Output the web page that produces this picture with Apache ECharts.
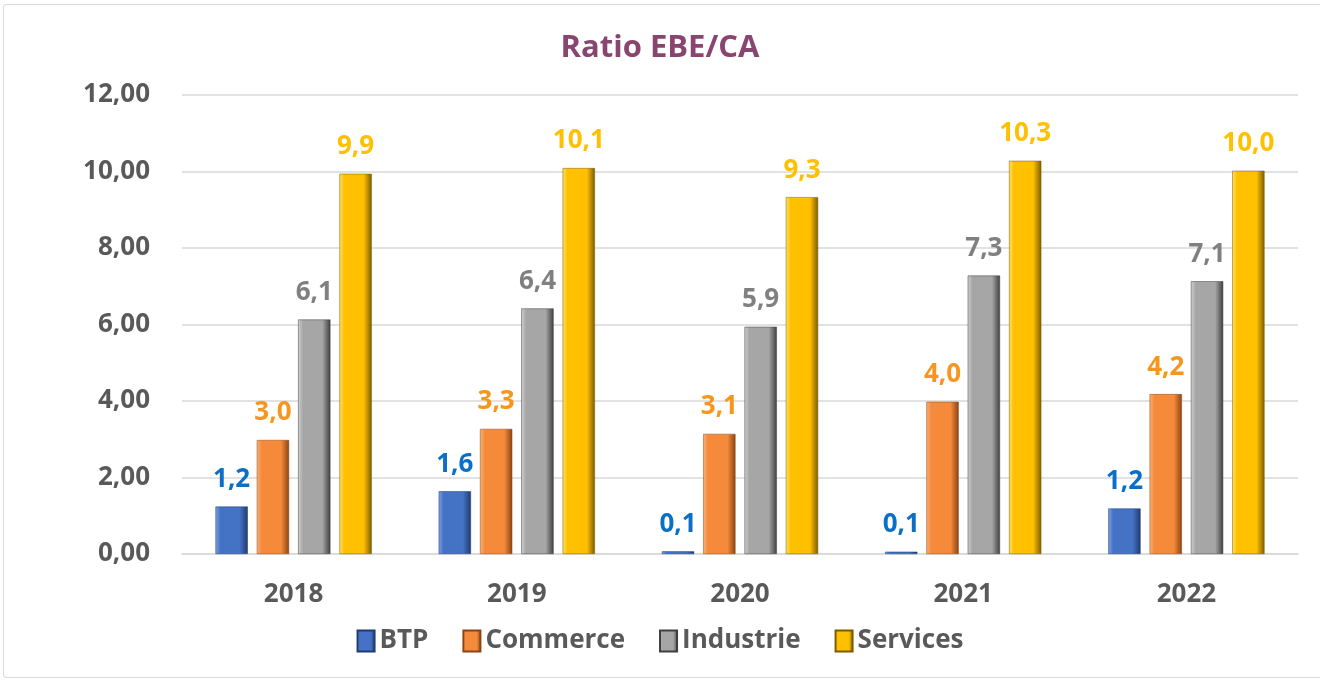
<!DOCTYPE html>
<html>
<head>
<meta charset="utf-8">
<script src="https://cdn.jsdelivr.net/npm/echarts@6/dist/echarts.min.js"></script>
<style>
  html, body { margin: 0; padding: 0; background: #fff; }
  .frame {
    position: absolute; left: 3px; top: 4px; width: 1330px; height: 672px;
    border: 1px solid #d9d9d9; border-radius: 3px;
  }
  .chart1 { position: absolute; left: 0; top: 0; width: 1320px; height: 681px; }
</style>
</head>
<body>
<div class="frame"></div>
<div class="chart1"></div>
<script>
const years = ['2018', '2019', '2020', '2021', '2022']
const btp = [1.24, 1.64, 0.07, 0.06, 1.19]
const commerce = [2.98, 3.27, 3.14, 3.98, 4.18]
const industrie = [6.13, 6.42, 5.94, 7.28, 7.13]
const services = [9.94, 10.09, 9.33, 10.28, 10.02]
const yTicks = [0, 2, 4, 6, 8, 10, 12]

const font = '"Open Sans", "Noto Sans", sans-serif'

// dégradé horizontal pour imiter le biseau des barres
function bevel (light, mid, dark) {
  return new echarts.graphic.LinearGradient(0, 0, 1, 0, [
    { offset: 0, color: light },
    { offset: 0.15, color: mid },
    { offset: 0.75, color: mid },
    { offset: 1, color: dark }
  ])
}

function makeSeries (name, data, colors, labelColor) {
  return {
    name: name,
    type: 'bar',
    data: data,
    barGap: '28%',
    barCategoryGap: '30%',
    itemStyle: {
      color: bevel(colors[0], colors[1], colors[2]),
      borderColor: colors[2],
      borderWidth: 0.5
    },
    label: {
      show: true,
      position: 'top',
      distance: 14,
      color: labelColor,
      fontFamily: font,
      fontWeight: 'bold',
      fontSize: 26,
      formatter: p => p.value.toFixed(1).replace('.', ',')
    }
  }
}

const myChart = echarts.init(document.querySelector('.chart1'))
myChart.setOption({
  animation: false,
  title: {
    text: 'Ratio EBE/CA',
    left: 'center',
    top: 28,
    textStyle: { color: '#8a4470', fontFamily: font, fontWeight: 'bold', fontSize: 31 }
  },
  grid: { left: 182, right: 22, top: 95, bottom: 127 },
  legend: {
    bottom: 22,
    left: 'center',
    itemWidth: 17,
    itemHeight: 21,
    itemGap: 34,
    icon: 'rect',
    textStyle: { color: '#595959', fontFamily: font, fontWeight: 'bold', fontSize: 26 },
    data: ['BTP', 'Commerce', 'Industrie', 'Services']
  },
  xAxis: {
    type: 'category',
    data: years,
    axisTick: { show: false },
    axisLine: { lineStyle: { color: '#d9d9d9', width: 1.5 } },
    axisLabel: { color: '#595959', fontFamily: font, fontWeight: 'bold', fontSize: 26, margin: 28 }
  },
  yAxis: {
    type: 'value',
    min: yTicks[0],
    max: yTicks[yTicks.length - 1],
    interval: 2,
    axisLine: { show: false },
    axisTick: { show: false },
    splitLine: { lineStyle: { color: '#d9d9d9', width: 1.5 } },
    axisLabel: {
      color: '#595959', fontFamily: font, fontWeight: 'bold', fontSize: 26, margin: 32,
      formatter: v => v.toFixed(2).replace('.', ',')
    }
  },
  series: [
    makeSeries('BTP', btp, ['#7fa3e0', '#4472c4', '#1f3b70'], '#0b6fc8'),
    makeSeries('Commerce', commerce, ['#f9b27a', '#f58a3a', '#8a4413'], '#f7961e'),
    makeSeries('Industrie', industrie, ['#d0d0d0', '#a6a6a6', '#3f3f3f'], '#808080'),
    makeSeries('Services', services, ['#ffe066', '#ffc000', '#7a5c00'], '#ffc000')
  ]
})
</script>
</body>
</html>
